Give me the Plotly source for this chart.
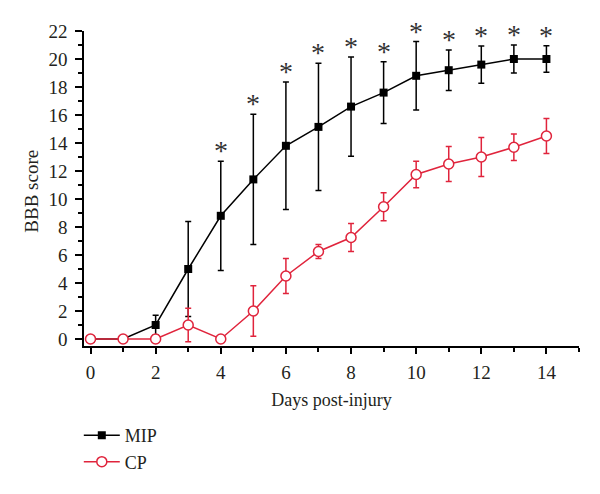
import plotly.graph_objects as go

days = list(range(15))
mip = [0, 0, 1.0, 5.0, 8.8, 11.4, 13.8, 15.15, 16.6, 17.6, 18.8, 19.2, 19.6, 20.0, 20.0]
mip_err = [0, 0, 0.7, 3.4, 3.9, 4.65, 4.55, 4.55, 3.55, 2.2, 2.45, 1.45, 1.33, 1.0, 0.95]
cp = [0, 0, 0, 1.0, 0, 2.0, 4.5, 6.25, 7.25, 9.45, 11.75, 12.5, 13.0, 13.7, 14.5]
cp_err = [0, 0, 0, 1.2, 0, 1.8, 1.25, 0.5, 1.0, 1.0, 0.95, 1.25, 1.4, 0.95, 1.25]
sig_days = [4, 5, 6, 7, 8, 9, 10, 11, 12, 13, 14]

FONT = "Liberation Serif"
RED = "#E0243C"
TXT = "#231F20"

fig = go.Figure()
fig.add_trace(go.Scatter(
    x=days, y=mip, name="MIP", mode="lines+markers",
    line=dict(color="black", width=1.5),
    marker=dict(symbol="square", size=8, color="black"),
    error_y=dict(type="data", array=mip_err, visible=True, color="black", thickness=1.5, width=3),
))
fig.add_trace(go.Scatter(
    x=days, y=cp, name="CP", mode="lines+markers",
    line=dict(color=RED, width=1.5),
    marker=dict(symbol="circle", size=10, color="white", line=dict(color=RED, width=1.5)),
    error_y=dict(type="data", array=cp_err, visible=True, color=RED, thickness=1.5, width=3),
))

for d in sig_days:
    fig.add_annotation(x=d, y=mip[d] + mip_err[d], text="*", showarrow=False,
                       yanchor="bottom", yshift=-7,
                       font=dict(family=FONT, size=28, color="#333"))

# y-axis title
fig.add_annotation(xref="paper", yref="paper", x=-0.105, y=0.49, text="BBB score",
                   textangle=-90, showarrow=False, xanchor="center", yanchor="middle",
                   font=dict(family=FONT, size=19, color=TXT))

# page body has an 8px default margin, so margins are shifted accordingly
fig.update_layout(
    width=600, height=494,
    margin=dict(l=76, r=29, t=23, b=156, autoexpand=False),
    plot_bgcolor="white", paper_bgcolor="white",
    font=dict(family=FONT, size=18, color=TXT),
    showlegend=True,
    legend=dict(xref="container", yref="container", x=0.118, y=0.172, xanchor="left", yanchor="top",
                font=dict(family=FONT, size=18, color=TXT),
                bgcolor="rgba(0,0,0,0)", tracegroupgap=0, itemwidth=36),
)
fig.update_xaxes(
    range=[-0.2, 15], tickmode="array", tickvals=[0, 2, 4, 6, 8, 10, 12, 14],
    showline=True, linecolor="black", linewidth=1.5, ticks="outside", ticklen=6,
    tickwidth=1.5, tickcolor="black", showgrid=False, zeroline=False, automargin=True,
    minor=dict(tickvals=[1, 3, 5, 7, 9, 11, 13, 15], ticks="outside", ticklen=4, tickwidth=1.5, tickcolor="black"),
    title=dict(text="Days post-injury", font=dict(size=18), standoff=12),
    tickfont=dict(size=19), ticklabelstandoff=2,
)
fig.update_yaxes(
    range=[-0.5, 22], tickmode="array", tickvals=list(range(0, 23, 2)),
    showline=True, linecolor="black", linewidth=1.5, ticks="outside", ticklen=7,
    tickwidth=1.5, tickcolor="black", showgrid=False, zeroline=False, automargin=True,
    minor=dict(tickvals=list(range(1, 22, 2)), ticks="outside", ticklen=4, tickwidth=1.5, tickcolor="black"),
    tickfont=dict(size=19), ticklabelstandoff=4,
)

fig.write_html("out.html")
